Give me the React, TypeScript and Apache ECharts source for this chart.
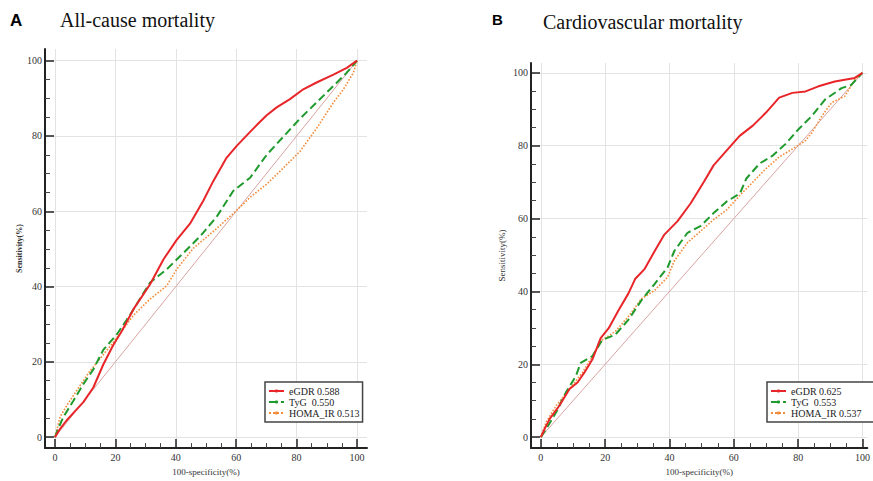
import React, { useEffect, useRef } from "react";
import * as echarts from "echarts";

// ---------- data ----------
const majorTicks = [0, 20, 40, 60, 80, 100];
const minorTicks = [5, 10, 15, 25, 30, 35, 45, 50, 55, 65, 70, 75, 85, 90, 95];
const diagonal = [[0, 0], [100, 100]];

const namesA = ["eGDR 0.588", "TyG  0.550", "HOMA_IR 0.513"];
const namesB = ["eGDR 0.625", "TyG  0.553", "HOMA_IR 0.537"];

// Panel A (All-cause mortality): [100-specificity, sensitivity]
const egdrA = [
  [0, 0], [1.5, 2], [3.9, 4.5], [6.5, 6.8], [9.4, 9.3], [12.7, 13.2], [16, 19.3], [19.3, 24.5],
  [22, 28], [26, 34], [31.5, 40.6], [35.9, 47.2], [40.3, 52.4], [44.7, 56.7], [49.1, 62.8],
  [52.4, 68], [56.8, 74.2], [60.1, 77.3], [64.6, 81.1], [67.3, 83.3], [70.1, 85.5],
  [73.4, 87.6], [77.8, 89.8], [82.2, 92.4], [86.6, 94.2], [92.2, 96.3], [96.6, 98.1], [100, 100]
];
const tygA = [
  [0, 0], [1.2, 2.5], [2.8, 5.4], [6.1, 9.7], [9.4, 14.1], [12.7, 18], [16, 23.2], [20.4, 27.2],
  [24.8, 32.4], [31.5, 41.1], [37, 44.6], [42.5, 48.9], [48, 53.3], [53.5, 58.5], [59, 65.4],
  [64.6, 68.9], [70.1, 75], [75.6, 79.8], [81.1, 84.6], [86.6, 88.9], [92.2, 93.3],
  [96.6, 96.8], [100, 100]
];
const homaA = [
  [0, 0], [1.7, 5.4], [3.9, 8.4], [7.2, 12.4], [11.6, 17.6], [16, 21.9], [20.4, 26.3],
  [26, 32.4], [31.5, 36.7], [37, 40.2], [40.3, 44.6], [45.8, 50.2], [49.1, 52.4],
  [53.5, 55.4], [60.1, 60.2], [64.6, 63.7], [70.1, 67.2], [75.6, 71.5], [81.1, 75.9],
  [86.6, 82], [92.2, 88.9], [95.5, 92.4], [98.8, 96.8], [100, 100]
];

// Panel B (Cardiovascular mortality)
const egdrB = [
  [0, 0], [1.2, 2.3], [2.8, 5.1], [5.8, 8.7], [8.9, 13.2], [11.4, 15], [13.5, 17.7], [16, 21.3],
  [18.6, 27.2], [21.1, 29.9], [24.2, 34.9], [27.2, 39.4], [29.3, 43.4], [32.3, 46.2],
  [35.4, 51.1], [38.4, 55.6], [42.5, 59.3], [46.6, 64.2], [50.7, 70.1], [53.7, 74.6],
  [57.8, 78.7], [61.8, 82.7], [65.9, 85.5], [70, 89.1], [74.1, 93.2], [78.2, 94.5],
  [82.3, 94.9], [86.3, 96.3], [91.4, 97.6], [94.5, 98.1], [97.6, 98.6], [100, 100]
];
const tygB = [
  [0, 0], [1.7, 2.3], [4.8, 6.9], [7.8, 12.3], [10.9, 16.8], [12.4, 20.4], [16, 22.2],
  [19.1, 26.7], [23.1, 28.1], [27.2, 32.2], [31.3, 37.6], [35.4, 42.1], [39.4, 46.6],
  [41.5, 51.1], [45.6, 56.1], [49.6, 57.9], [53.7, 61.5], [57.8, 64.7], [61.9, 66.9],
  [63.9, 71], [68, 75.1], [72.1, 77.3], [76.1, 80.5], [80.2, 84.6], [84.3, 88.2],
  [88.4, 92.7], [93.5, 95.8], [96.5, 96.7], [100, 100]
];
const homaB = [
  [0, 0], [1.7, 4.2], [4.8, 8.7], [8.9, 13.2], [12.9, 17.7], [16, 22.2], [19.1, 26.7],
  [23.1, 29], [27.2, 33.1], [31.3, 38], [35.4, 40.3], [39.4, 43.9], [41.5, 48.4],
  [45.6, 53.4], [49.6, 56.5], [53.7, 59.7], [57.8, 62.4], [61.9, 66.4], [66, 70.1],
  [70, 73.7], [74.1, 76.9], [78.2, 79.1], [82.3, 81.4], [84.3, 83.6], [87.4, 88.2],
  [90.4, 91.8], [94.5, 93.6], [97.6, 98.1], [100, 100]
];

const RED = "#e8262a";
const GREEN = "#1f9a2c";
const ORANGE = "#f28c3a";
const SERIF = "'Liberation Serif', 'Times New Roman', serif";

function majorAxis(dim: "x" | "y", gridIndex: number, min: number, max: number, name: string, nameGap: number, nameStyle: any) {
  return {
    type: "value",
    gridIndex,
    position: dim === "x" ? "bottom" : "left",
    min,
    max,
    name,
    nameLocation: "middle",
    nameGap,
    nameTextStyle: nameStyle,
    axisLine: { show: true, onZero: false, lineStyle: { color: "#222", width: 2 } },
    axisTick: { show: true, inside: true, length: 9, customValues: majorTicks, lineStyle: { color: "#222", width: 1.5 } },
    axisLabel: {
      customValues: majorTicks,
      margin: dim === "x" ? 4 : 3,
      fontSize: 10,
      fontFamily: SERIF,
      color: "#333",
    },
    splitLine: { show: true, lineStyle: { color: "#e3e3e3", width: 1 } },
  };
}

function minorAxis(dim: "x" | "y", gridIndex: number, min: number, max: number) {
  return {
    type: "value",
    gridIndex,
    position: dim === "x" ? "bottom" : "left",
    min,
    max,
    axisLine: { show: false, onZero: false },
    axisTick: { show: true, inside: true, length: 5, customValues: minorTicks, lineStyle: { color: "#444", width: 1 } },
    axisLabel: { show: false },
    splitLine: { show: false },
  };
}

function rocSeries(names: string[], data: number[][][], xi: number, yi: number) {
  const base = { type: "line", xAxisIndex: xi, yAxisIndex: yi, symbol: "none", silent: true, z: 3 };
  return [
    { ...base, name: "diag" + xi, data: diagonal, lineStyle: { color: "#d9a3a3", width: 1 }, z: 2 },
    { ...base, name: names[2], data: data[2], lineStyle: { color: ORANGE, width: 1.6, type: "dotted" }, itemStyle: { color: ORANGE } },
    { ...base, name: names[1], data: data[1], lineStyle: { color: GREEN, width: 2, type: "dashed" }, itemStyle: { color: GREEN } },
    { ...base, name: names[0], data: data[0], lineStyle: { color: RED, width: 2 }, itemStyle: { color: RED } },
  ];
}

function legend(left: number, names: string[], padRight: number) {
  return {
    orient: "vertical",
    left,
    top: 382,
    padding: [4, padRight, 4, 3],
    itemGap: 1,
    itemWidth: 15,
    itemHeight: 4,
    borderColor: "#444",
    borderWidth: 1.5,
    borderRadius: 0,
    backgroundColor: "#fff",
    textStyle: { fontSize: 10, fontFamily: SERIF, color: "#222", lineHeight: 10 },
    data: names,
  };
}

export default function App() {
  const ref = useRef<HTMLDivElement>(null);
  useEffect(() => {
    if (!ref.current) return;
    const chart = echarts.init(ref.current, null, { renderer: "svg" });
    const nameA = { fontSize: 8, fontWeight: "bold", fontFamily: SERIF, color: "#333" };
    const nameB = { fontSize: 9, fontFamily: SERIF, color: "#333" };
    const xNameStyle = { fontSize: 9, fontFamily: SERIF, color: "#333" };
    chart.setOption({
      animation: false,
      backgroundColor: "#fff",
      title: [
        { text: "A", left: 10, top: 12, padding: 0, textStyle: { fontSize: 17, fontWeight: "bold", fontFamily: "'Liberation Sans', Arial, sans-serif", color: "#000" } },
        { text: "All-cause mortality", left: 60, top: 10, padding: 0, textStyle: { fontSize: 20, fontWeight: "normal", fontFamily: SERIF, color: "#111" } },
        { text: "B", left: 492, top: 12, padding: 0, textStyle: { fontSize: 15, fontWeight: "bold", fontFamily: "'Liberation Sans', Arial, sans-serif", color: "#000" } },
        { text: "Cardiovascular mortality", left: 543, top: 12, padding: 0, textStyle: { fontSize: 20, fontWeight: "normal", fontFamily: SERIF, color: "#111" } },
      ],
      grid: [
        { left: 45, top: 49, width: 322, height: 406, containLabel: false },
        { left: 531, top: 63, width: 342, height: 390, containLabel: false },
      ],
      xAxis: [
        majorAxis("x", 0, -3.3, 103.3, "100-specificity(%)", 18, xNameStyle),
        minorAxis("x", 0, -3.3, 103.3),
        majorAxis("x", 1, -3.06, 101.5, "100-specificity(%)", 16, xNameStyle),
        minorAxis("x", 1, -3.06, 101.5),
      ],
      yAxis: [
        majorAxis("y", 0, -2.9, 103.1, "Sensitivity(%)", 22, nameA),
        minorAxis("y", 0, -2.9, 103.1),
        majorAxis("y", 1, -3.0, 102.7, "Sensitivity(%)", 25, nameB),
        minorAxis("y", 1, -3.0, 102.7),
      ],
      legend: [legend(265, namesA, 3), legend(767, namesB, 15)],
      series: [
        ...rocSeries(namesA, [egdrA, tygA, homaA], 0, 0),
        ...rocSeries(namesB, [egdrB, tygB, homaB], 2, 2),
      ],
    });
    return () => chart.dispose();
  }, []);
  return (
    <div
      ref={ref}
      style={{ position: "fixed", left: 0, top: 0, width: 873, height: 481, background: "#fff" }}
    />
  );
}
